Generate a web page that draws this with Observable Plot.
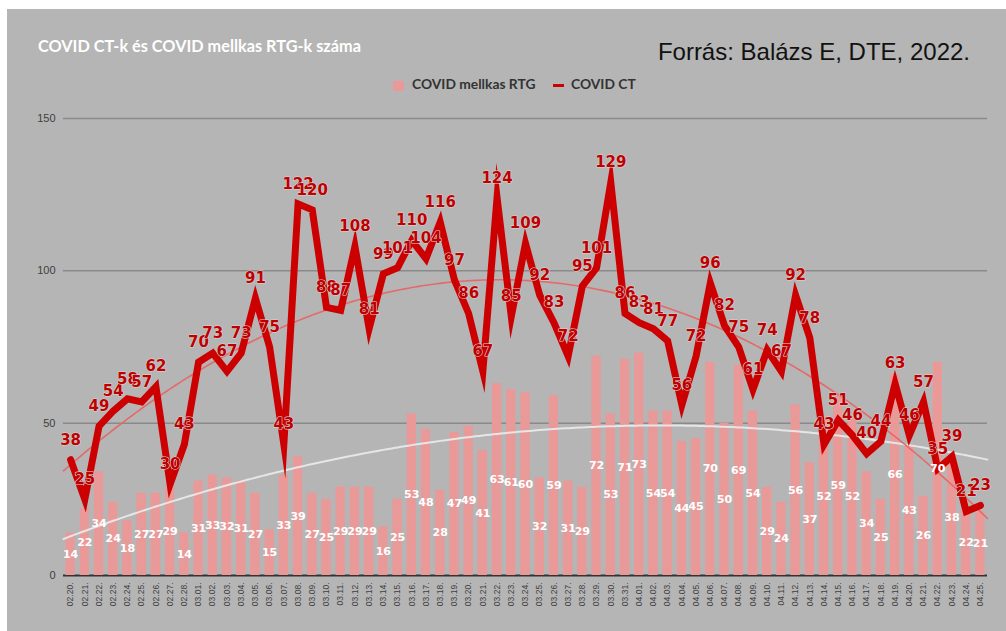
<!DOCTYPE html>
<html><head><meta charset="utf-8">
<script src="https://cdn.jsdelivr.net/npm/d3@7"></script>
<script src="https://cdn.jsdelivr.net/npm/@observablehq/plot@0.6"></script>
<style>
html,body{margin:0;padding:0;background:#fff;width:1006px;height:631px;overflow:hidden;}
#wrap{position:absolute;left:7px;top:9px;width:999px;height:622px;background:#b5b5b5;overflow:hidden;}
#chart{position:absolute;left:0;top:0;}
#title{position:absolute;left:31px;top:29px;font:bold 16.3px/16px Lato,sans-serif;color:#fff;white-space:nowrap;}
#source{position:absolute;right:36px;top:31px;font:24px/24px "Liberation Sans",Arial,sans-serif;color:#111;white-space:nowrap;}
.lg{position:absolute;top:68px;font:bold 13.8px/14px Lato,sans-serif;color:#333;white-space:nowrap;}
#sw1{position:absolute;left:386px;top:72px;width:11px;height:10px;background:#ea9999;}
#sw2{position:absolute;left:546px;top:75px;width:11px;height:3px;background:#cc0000;}
</style>
</head><body>
<div id="wrap">
  <div id="chart"></div>
  <div id="title">COVID CT-k és COVID mellkas RTG-k száma</div>
  <div id="source">Forrás: Balázs E, DTE, 2022.</div>
  <div id="sw1"></div><div class="lg" style="left:405px">COVID mellkas RTG</div>
  <div id="sw2"></div><div class="lg" style="left:564px">COVID CT</div>
</div>
<script>
const dates = [
 "02.20.","02.21.","02.22.","02.23.","02.24.","02.25.","02.26.","02.27.","02.28.",
 "03.01.","03.02.","03.03.","03.04.","03.05.","03.06.","03.07.","03.08.","03.09.","03.10.",
 "03.11.","03.12.","03.13.","03.14.","03.15.","03.16.","03.17.","03.18.","03.19.","03.20.",
 "03.21.","03.22.","03.23.","03.24.","03.25.","03.26.","03.27.","03.28.","03.29.","03.30.","03.31.",
 "04.01.","04.02.","04.03.","04.04.","04.05.","04.06.","04.07.","04.08.","04.09.","04.10.",
 "04.11.","04.12.","04.13.","04.14.","04.15.","04.16.","04.17.","04.18.","04.19.","04.20.",
 "04.21.","04.22.","04.23.","04.24.","04.25."];
const rtg = [14,22,34,24,18,27,27,29,14,
 31,33,32,31,27,15,33,39,27,25,29,29,29,16,25,53,48,28,47,49,41,63,61,60,32,59,31,29,72,53,71,
 73,54,54,44,45,70,50,69,54,29,24,56,37,52,59,52,34,25,66,43,26,70,38,22,21];
const ct = [38,25,49,54,58,57,62,30,43,
 70,73,67,73,91,75,43,122,120,88,87,108,81,99,101,110,104,116,97,86,67,124,85,109,92,83,72,95,101,129,86,
 83,81,77,56,72,96,82,75,61,74,67,92,78,43,51,46,40,44,63,46,57,35,39,21,23];
const yTicks = [0,50,100,150];

const rows = dates.map((d,i)=>({i, d, rtg: rtg[i], ct: ct[i]}));

// polynomial (order 2) trendline, as in the spreadsheet
function quadFit(ys){
  const S=[0,0,0,0,0], T=[0,0,0];
  ys.forEach((y,i)=>{const x=i+1; let p=1; for(let k=0;k<5;k++){S[k]+=p; if(k<3) T[k]+=p*y; p*=x;}});
  const A=[[S[0],S[1],S[2],T[0]],[S[1],S[2],S[3],T[1]],[S[2],S[3],S[4],T[2]]];
  for(let c=0;c<3;c++){
    let piv=c; for(let r=c+1;r<3;r++) if(Math.abs(A[r][c])>Math.abs(A[piv][c])) piv=r;
    [A[c],A[piv]]=[A[piv],A[c]];
    for(let r=0;r<3;r++){ if(r===c) continue; const f=A[r][c]/A[c][c]; for(let k=c;k<4;k++) A[r][k]-=f*A[c][k]; }
  }
  const a=A[0][3]/A[0][0], b=A[1][3]/A[1][1], cc=A[2][3]/A[2][2];
  return x => a + b*(x+1) + cc*(x+1)*(x+1);
}
const fCt = quadFit(ct), fRtg = quadFit(rtg);
const grid = d3.range(-0.5, dates.length - 0.5 + 0.001, 0.25);
const trendCt = grid.map(x=>({x, y:fCt(x)}));
const trendRtg = grid.map(x=>({x, y:fRtg(x)}));

const hw = 0.327;
const chart = Plot.plot({
  width: 999, height: 622,
  marginLeft: 56, marginRight: 19, marginTop: 109, marginBottom: 56,
  style: {background: "transparent", fontFamily: "Liberation Sans, sans-serif", overflow: "visible"},
  x: {type: "linear", domain: [-0.5, dates.length - 0.5]},
  y: {domain: [0, 150]},
  marks: [
    Plot.ruleY([50,100,150], {stroke: "#8a8a8a", strokeWidth: 1.5}),
    Plot.ruleY([0], {stroke: "#333", strokeWidth: 2}),
    Plot.rectY(rows, {x1: d=>d.i-hw, x2: d=>d.i+hw, y1: 0, y2: "rtg", fill: "#ea9999"}),
    Plot.line(trendRtg, {x: "x", y: "y", stroke: "#e6e6e6", strokeWidth: 2}),
    Plot.line(trendCt, {x: "x", y: "y", stroke: "#e46a6a", strokeWidth: 1.6}),
    Plot.line(rows, {x: "i", y: "ct", stroke: "#cc0000", strokeWidth: 7, strokeLinejoin: "miter", strokeMiterlimit: 10}),
    Plot.text(rows, {x: "i", y: d=>d.rtg/2, text: d=>String(d.rtg), fill: "#fff", fontWeight: "bold", fontSize: 11, fontFamily: "DejaVu Sans"}),
    Plot.text(rows, {x: "i", y: "ct", dy: -20, text: d=>String(d.ct), fill: "#c00000", fontWeight: "bold", fontSize: 15, fontFamily: "DejaVu Sans", stroke: "#d4d4d4", strokeWidth: 1.2, paintOrder: "stroke"}),
    Plot.axisY({ticks: yTicks, tickSize: 0, tickPadding: 8, fontSize: 11, color: "#404040", label: null}),
    Plot.axisX({ticks: d3.range(dates.length), tickFormat: i=>dates[i], tickRotate: -90, tickSize: 0, tickPadding: 7, fontSize: 8.5, color: "#404040", label: null})
  ]
});
document.getElementById("chart").appendChild(chart);
</script>
</body></html>
